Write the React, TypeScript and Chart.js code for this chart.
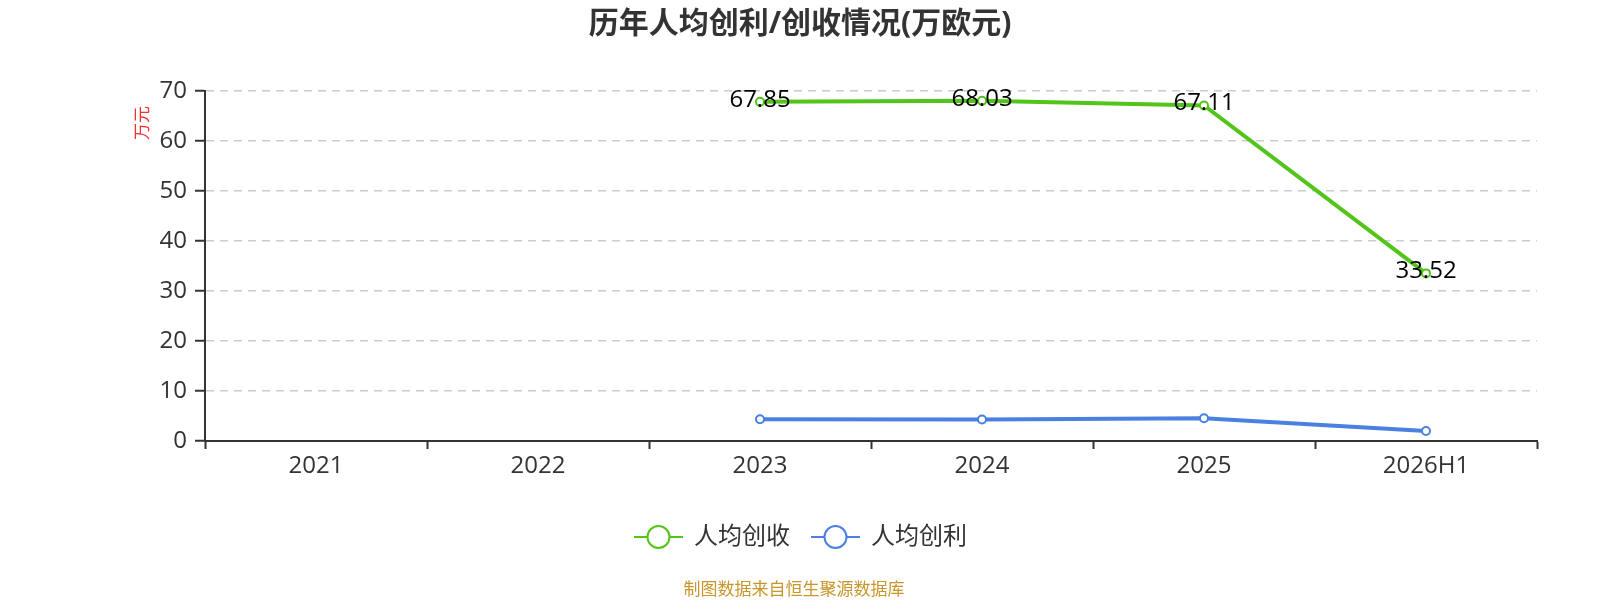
import { useRef, useEffect } from 'react';
import { Chart, registerables } from 'chart.js';
import type { Plugin } from 'chart.js';

Chart.register(...registerables);

const FONT = "'Open Sans', 'Noto Sans CJK SC', sans-serif";

const categories = ['2021', '2022', '2023', '2024', '2025', '2026H1'];
const revenuePerHead = [null, null, 67.85, 68.03, 67.11, 33.52];
const profitPerHead = [null, null, 4.35, 4.3, 4.55, 2.0];
const yTicks = [0, 10, 20, 30, 40, 50, 60, 70];

const GREEN = '#52c41a';
const BLUE = '#4a80e0';

const seriesNames = ['人均创收', '人均创利'];
const seriesColors = [GREEN, BLUE];

const decorations: Plugin<'line'> = {
  id: 'decorations',
  afterDraw(chart) {
    const { ctx } = chart;
    ctx.save();

    // title
    ctx.fillStyle = '#333';
    ctx.font = `bold 30px ${FONT}`;
    ctx.textAlign = 'center';
    ctx.textBaseline = 'middle';
    ctx.fillText('历年人均创利/创收情况(万欧元)', 800, 24);

    // y axis unit
    ctx.save();
    ctx.translate(143, 123);
    ctx.rotate(-Math.PI / 2);
    ctx.fillStyle = '#f03030';
    ctx.font = `17px ${FONT}`;
    ctx.fillText('万元', 0, 0);
    ctx.restore();

    // value labels on the revenue line
    const meta = chart.getDatasetMeta(0);
    ctx.fillStyle = '#000';
    ctx.font = `24px ${FONT}`;
    meta.data.forEach((pt, i) => {
      const v = revenuePerHead[i];
      if (v == null) return;
      ctx.fillText(v.toFixed(2), pt.x, pt.y - 2);
    });

    // legend
    const legendY = 537;
    const starts = [634, 811];
    seriesNames.forEach((name, i) => {
      const x = starts[i];
      ctx.strokeStyle = seriesColors[i];
      ctx.lineWidth = 2;
      ctx.beginPath();
      ctx.moveTo(x, legendY);
      ctx.lineTo(x + 49, legendY);
      ctx.stroke();
      ctx.beginPath();
      ctx.arc(x + 24.5, legendY, 11, 0, Math.PI * 2);
      ctx.fillStyle = '#fff';
      ctx.fill();
      ctx.stroke();
      ctx.fillStyle = '#333';
      ctx.font = `24px ${FONT}`;
      ctx.textAlign = 'left';
      ctx.fillText(name, x + 60, legendY);
    });

    // footer
    ctx.textAlign = 'center';
    ctx.fillStyle = '#c8962a';
    ctx.font = `17px ${FONT}`;
    ctx.fillText('制图数据来自恒生聚源数据库', 794, 590);

    ctx.restore();
  },
};

function ChartPanel() {
  const canvasRef = useRef<HTMLCanvasElement>(null);
  const chartRef = useRef<Chart<'line'> | null>(null);

  useEffect(() => {
    if (!canvasRef.current) return;
    if (chartRef.current) chartRef.current.destroy();

    chartRef.current = new Chart(canvasRef.current, {
      type: 'line',
      data: {
        labels: categories,
        datasets: [
          {
            label: seriesNames[0],
            data: revenuePerHead,
            borderColor: GREEN,
            backgroundColor: '#fff',
            borderWidth: 4,
            pointRadius: 4,
            pointBorderWidth: 2,
            pointBackgroundColor: '#fff',
            pointBorderColor: GREEN,
            tension: 0,
          },
          {
            label: seriesNames[1],
            data: profitPerHead,
            borderColor: BLUE,
            backgroundColor: '#fff',
            borderWidth: 4,
            pointRadius: 4,
            pointBorderWidth: 2,
            pointBackgroundColor: '#fff',
            pointBorderColor: BLUE,
            tension: 0,
          },
        ],
      },
      options: {
        responsive: false,
        animation: false,
        layout: { padding: { top: 91, right: 63, bottom: 99, left: 0 } },
        plugins: {
          legend: { display: false },
          title: { display: false },
          tooltip: { enabled: false },
        },
        scales: {
          x: {
            offset: true,
            grid: {
              offset: true,
              drawOnChartArea: false,
              drawTicks: true,
              tickLength: 8,
              tickColor: '#333',
              tickWidth: 2,
            },
            border: { color: '#333', width: 2 },
            ticks: {
              color: '#333',
              font: { family: FONT, size: 24 },
              padding: 3,
              maxRotation: 0,
            },
            afterFit: (scale) => {
              scale.height = 60;
            },
          },
          y: {
            min: 0,
            max: 70,
            afterBuildTicks: (scale) => {
              scale.ticks = yTicks.map((value) => ({ value }));
            },
            grid: {
              color: '#ccc',
              lineWidth: 1.5,
              tickColor: '#333',
              tickWidth: 2,
              tickLength: 10,
              tickBorderDash: [],
            },
            border: { color: '#333', width: 2, dash: [8, 6] },
            ticks: {
              color: '#333',
              font: { family: FONT, size: 24 },
              padding: 8,
            },
            afterFit: (scale) => {
              scale.width = 205;
            },
          },
        },
      },
      plugins: [decorations],
    });

    return () => {
      chartRef.current?.destroy();
      chartRef.current = null;
    };
  }, []);

  return <canvas ref={canvasRef} width={1600} height={600} style={{ display: 'block' }} />;
}

export default function App() {
  useEffect(() => {
    document.body.style.margin = '0';
  }, []);
  return (
    <div style={{ width: 1600, height: 600, background: '#fff' }}>
      <ChartPanel />
    </div>
  );
}
